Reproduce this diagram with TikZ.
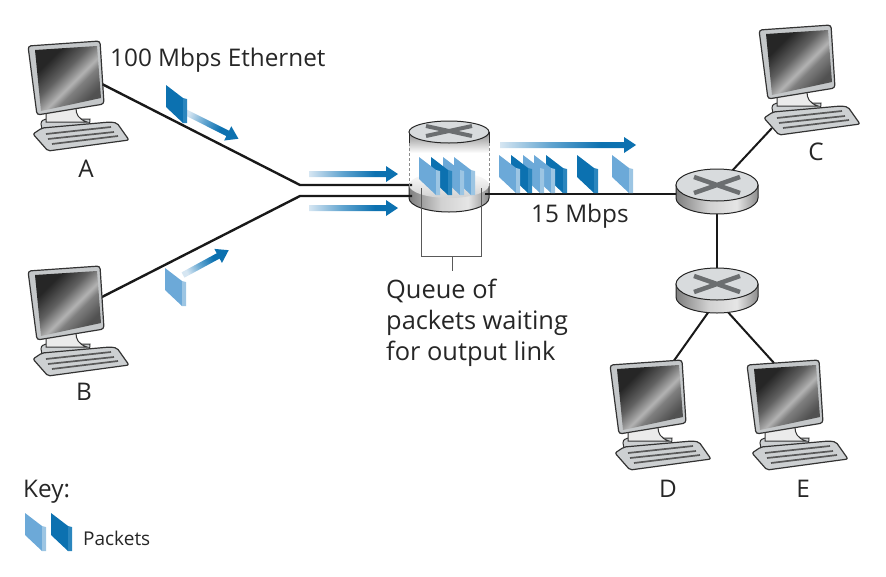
\documentclass[tikz,border=0pt]{standalone}
\usepackage{fontspec}
\setmainfont{Open Sans}
\usetikzlibrary{calc}
\definecolor{pdark}{HTML}{0C71B0}
\definecolor{pdarks}{HTML}{2B86BE}
\definecolor{plite}{HTML}{6CA9D8}
\definecolor{plites}{HTML}{9CC5E3}
\definecolor{afade}{HTML}{D6E6F2}
\definecolor{amid}{HTML}{5FA3CF}
\definecolor{keygray}{HTML}{CDD0D2}
\definecolor{bezel}{HTML}{C4C7C9}
\definecolor{xgray}{HTML}{6B6E70}
\definecolor{toptone}{HTML}{D8DBDD}
\pgfdeclarehorizontalshading{screenshade}{100bp}{color(0bp)=(black!85);color(30bp)=(black!85);color(44bp)=(black!62);color(55bp)=(black!30);color(60bp)=(black!50);color(72bp)=(black!68);color(100bp)=(black!70)}
\pgfdeclarehorizontalshading{sideshade}{100bp}{color(0bp)=(black!50);color(25bp)=(black!50);color(45bp)=(black!18);color(62bp)=(black!10);color(75bp)=(black!45);color(100bp)=(black!45)}
\pgfdeclarehorizontalshading{arrowshade}{100bp}{color(0bp)=(afade);color(25bp)=(afade);color(44bp)=(amid);color(62bp)=(pdark);color(100bp)=(pdark)}
\tikzset{
  x=1pt,y=-1pt,
  wire/.style={line width=2.4pt,black!90},
  wirethin/.style={line width=2pt,black!90},
  bracket/.style={line width=1pt,black!65},
  lbl/.style={font=\fontsize{24.3}{28}\selectfont,text=black!85,inner sep=0pt,anchor=base west},
  lblq/.style={font=\fontsize{25.4}{28}\selectfont,text=black!85,inner sep=0pt,anchor=base west},
  lblc/.style={font=\fontsize{24.3}{28}\selectfont,text=black!85,inner sep=0pt,anchor=base},
  pics/packet/.style 2 args={code={
    \fill[#1] (0,0) -- (17,13) -- (17,38) -- (0,22) -- cycle;
    \fill[#2] (17,13) -- (21,14) -- (21,38) -- (17,38) -- cycle;
  }},
  pics/computer/.style={code={
    % stand
    \draw[line width=1pt,black!80,fill=keygray] (41,124) .. controls (41,120) and (44,120) .. (46,119) -- (90,119) .. controls (90,124) and (90,130) .. (70,131) -- (44,131) .. controls (42,129) and (41,127) .. (41,124) -- cycle;
    \draw[line width=1pt,black!80,fill=white!92!black] (46,122) -- (46,112) -- (76,108) .. controls (76,114) and (78,119) .. (87,122) -- cycle;
    % keyboard
    \draw[line width=1.2pt,black!80,fill=keygray,rounded corners=2pt] (33,134) -- (42,128) -- (110,122) -- (117,123) -- (129,140) -- (48,151) -- cycle;
    \draw[line width=1.7pt,black!65] (46,134) -- (111,127) (48,139) -- (114,132) (52,144) -- (118,136);
    % monitor
    \draw[line width=1.2pt,black!80,fill=bezel,rounded corners=3pt] (28,46) -- (100,41) -- (104,104) -- (37,115) -- cycle;
    \shade[shading=screenshade,shading angle=-45] (35,50) -- (97,46) -- (101,98) -- (41,111) -- cycle;
  }},
  pics/routerbody/.style={code={
    \path[shading=sideshade,draw=black!85,line width=1pt] (-41,0) -- (-41,13) arc[start angle=180,end angle=360,x radius=41pt,y radius=16pt] -- (41,0) -- cycle;
    \draw[line width=1pt,black!85,fill=toptone] (0,0) ellipse[x radius=41pt,y radius=16pt];
    \draw[line width=4.5pt,xgray] (-23,8) -- (23,-8) (-23,-8) -- (23,8);
  }},
}
\newcommand{\gradarrow}[4]{% x y length angle(ccw canvas)
  \begin{scope}[shift={(#1,#2)}]
    \shade[shading=arrowshade,shading angle=#4]
      [rotate=#4]
      (0,-3) -- (#3-12,-3) -- (#3-12,-8) -- (#3,0) -- (#3-12,8) -- (#3-12,3) -- (0,3) -- cycle;
  \end{scope}}
\begin{document}
\begin{tikzpicture}
\useasboundingbox (0,0) rectangle (886,576);
% named ends
\coordinate (Aport) at (100,83);
\coordinate (Bport) at (100,298);
\coordinate (Cport) at (772,128);
\coordinate (Dport) at (673,362);
\coordinate (Eport) at (774,363);
\coordinate (J1) at (300,185);
\coordinate (J2) at (300,196);
\coordinate (Qin1) at (412,185);
\coordinate (Qin2) at (412,196);
\coordinate (Qout) at (485,194);
\coordinate (Rone) at (717,194);
\coordinate (Rctr) at (717,187);
\coordinate (Rtwo) at (717,300);
\coordinate (BrL) at (421,188);
\coordinate (BrR) at (481,188);
\coordinate (BrLb) at (421,256);
\coordinate (BrRb) at (481,256);
\coordinate (BrM) at (452,256);
\coordinate (BrS) at (452,271);
% bottom part of the queue router
\path[shading=sideshade,draw=black!85,line width=1pt] (409,185) -- (409,198) arc[start angle=180,end angle=360,x radius=40pt,y radius=14pt] -- (489,185) -- cycle;
\shade[top color=white,bottom color=black!18] (449,185) ellipse[x radius=40pt,y radius=13pt];
% connectors
\draw[wire] (Aport) -- (J1) -- (Qin1);
\draw[wire] (Bport) -- (J2) -- (Qin2);
\draw[wire] (Qout) -- (Rone);
\draw[wirethin] (Rctr) -- (Cport);
\draw[wirethin] (Rctr) -- (Rtwo);
\draw[wirethin] (Rtwo) -- (Dport);
\draw[wirethin] (Rtwo) -- (Eport);
% top part of the queue router
\shade[top color=black!45,bottom color=white] (409,132) -- (409,153) -- (489,153) -- (489,132) -- cycle;
\draw[line width=1pt,black!85] (409,132) -- (409,143) (489,132) -- (489,143);
\draw[line width=1pt,black!85,fill=toptone] (449,132) ellipse[x radius=40pt,y radius=11pt];
\draw[line width=4pt,xgray] (426,136) -- (472,126) (426,126) -- (472,136);
\draw[line width=1pt,black!45,dash pattern=on 2.5pt off 2.5pt] (409,143) -- (409,188) (489,143) -- (489,188);
% queue packets
\pic at (454,157) {packet={plite}{plites}};
\pic at (443,157) {packet={plite}{plites}};
\pic at (431,157) {packet={pdark}{pdarks}};
\pic at (419,157) {packet={plite}{plites}};
% bracket
\draw[bracket] (BrL) -- (BrLb) -- (BrRb) -- (BrR);
\draw[bracket] (BrM) -- (BrS);
% routers
\pic at (717,185) {routerbody};
\pic at (717,284) {routerbody};
% computers
\pic at (0,0) {computer};
\pic at (0,225) {computer};
\pic at (731,-16) {computer};
\pic at (582,319) {computer};
\pic at (719,319) {computer};
% arrows
\gradarrow{309}{174}{89}{0}
\gradarrow{309}{208}{89}{0}
\gradarrow{500}{145}{136}{0}
\gradarrow{183}{111}{62}{-26.6}
\gradarrow{183}{275}{52}{28.5}
% packets in flight
\pic at (166,85) {packet={pdark}{pdarks}};
\pic at (165,268) {packet={plite}{plites}};
\pic at (546,155) {packet={pdark}{pdarks}};
\pic at (534,155) {packet={plite}{plites}};
\pic at (523,155) {packet={plite}{plites}};
\pic at (511,155) {packet={pdark}{pdarks}};
\pic at (499,155) {packet={plite}{plites}};
\pic at (577,155) {packet={pdark}{pdarks}};
\pic at (612,155) {packet={plite}{plites}};
% labels
\node[lbl] (Leth) at (110,66) {100 Mbps Ethernet};
\node[lbl] (Lfif) at (531,222) {15 Mbps};
\node[lblq] (Lq1) at (386,298) {Queue of};
\node[lblq] (Lq2) at (386,329) {packets waiting};
\node[lblq] (Lq3) at (386,360) {for output link};
\node[lblc] (LA) at (86,177) {A};
\node[lblc] (LB) at (84,400) {B};
\node[lblc] (LC) at (816,160) {C};
\node[lblc] (LD) at (668,497) {D};
\node[lblc] (LE) at (803,497) {E};
\node[lbl] (Lkey) at (23,497) {Key:};
\node[lbl,font=\fontsize{19}{24}\selectfont] (Lpk) at (83,545) {Packets};
% key packets
\pic at (25,513) {packet={plite}{plites}};
\pic at (51,513) {packet={pdark}{pdarks}};
\end{tikzpicture}
\end{document}
